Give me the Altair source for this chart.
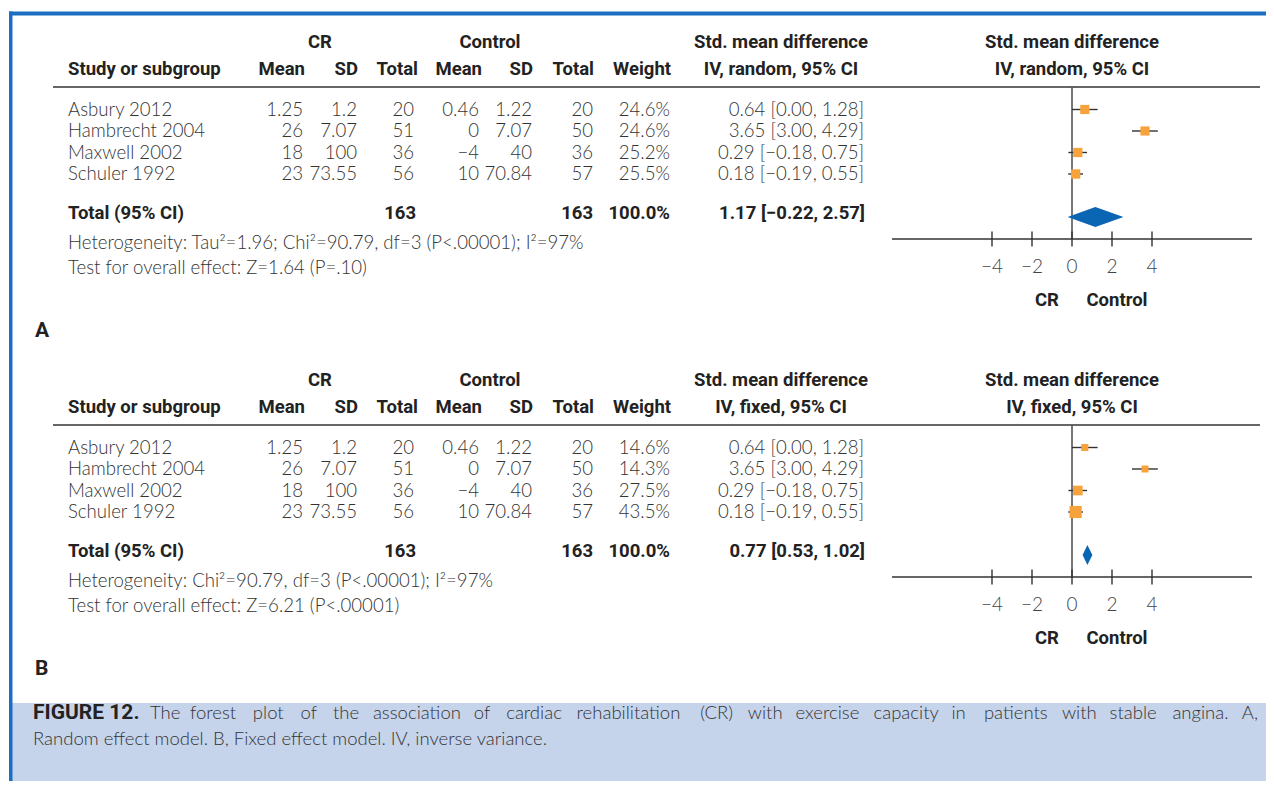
import altair as alt
import pandas as pd

# ---------------- data ----------------
studies = ["Asbury 2012", "Hambrecht 2004", "Maxwell 2002", "Schuler 1992"]
cr_mean = ["1.25", "26", "18", "23"]
cr_sd = ["1.2", "7.07", "100", "73.55"]
cr_total = ["20", "51", "36", "56"]
ct_mean = ["0.46", "0", "\u22124", "10"]
ct_sd = ["1.22", "7.07", "40", "70.84"]
ct_total = ["20", "50", "36", "57"]
smd = [0.64, 3.65, 0.29, 0.18]
ci_lo = [0.00, 3.00, -0.18, -0.19]
ci_hi = [1.28, 4.29, 0.75, 0.55]
ci_text = ["0.64 [0.00, 1.28]", "3.65 [3.00, 4.29]",
           "0.29 [\u22120.18, 0.75]", "0.18 [\u22120.19, 0.55]"]
weights = {"random": [24.6, 24.6, 25.2, 25.5], "fixed": [14.6, 14.3, 27.5, 43.5]}
weight_text = {"random": ["24.6%", "24.6%", "25.2%", "25.5%"],
               "fixed": ["14.6%", "14.3%", "27.5%", "43.5%"]}
total_cr = "163"
total_ct = "163"
total_weight = "100.0%"
pooled = {"random": (1.17, -0.22, 2.57), "fixed": (0.77, 0.53, 1.02)}
pooled_text = {"random": "1.17 [\u22120.22, 2.57]", "fixed": "0.77 [0.53, 1.02]"}
het_text = {"random": "Heterogeneity: Tau\u00b2=1.96; Chi\u00b2=90.79, df=3 (P<.00001); I\u00b2=97%",
            "fixed": "Heterogeneity: Chi\u00b2=90.79, df=3 (P<.00001); I\u00b2=97%"}
test_text = {"random": "Test for overall effect: Z=1.64 (P=.10)",
             "fixed": "Test for overall effect: Z=6.21 (P<.00001)"}
method_text = {"random": "IV, random, 95% CI", "fixed": "IV, fixed, 95% CI"}
panel_letters = {"random": "A", "fixed": "B"}
ticks = [-4, -2, 0, 2, 4]
tick_labels = ["\u22124", "\u22122", "0", "2", "4"]
axis_domain = [-9, 9]
caption_bold = "FIGURE 12."
caption_line1 = ("The forest plot of the association of cardiac rehabilitation (CR) with "
                 "exercise capacity in patients with stable angina. A,")
caption_line2 = "Random effect model. B, Fixed effect model. IV, inverse variance."

# ---------------- layout (image pixels) ----------------
OX, OY = 8, 8
W, H = 1258, 773
COL = {"study": 68, "cr_mean": 303, "cr_sd": 357, "cr_total": 414, "ct_mean": 479,
       "ct_sd": 532, "ct_total": 593, "weight": 670, "ci": 864}
HDR2 = {"Mean": 305, "SD": 358, "Total": 418, "Mean2": 482, "SD2": 533, "Total2": 594,
        "Weight": 671}
CR_X, CTRL_X, SMD_X, PLOT_X = 320, 490, 781, 1072
H1_Y, H2_Y, RULE_Y = 42, 69, 87
ROW_Y0, ROW_STEP = 109.5, 21.5
TOTAL_Y, HET_Y, TEST_Y = 213, 243, 268
AXIS_Y, TICK_HALF, TICKLAB_Y, SIDE_Y = 239, 7.5, 267, 300
DIAMOND_Y, DIAMOND_H = 217, 10
LETTER_Y = 331
PANEL_DY = 338
PLOT_RANGE = [892, 1252]
CAP1_Y, CAP2_Y = 713, 739
CAP_BOLD_X, CAP_TEXT_X, CAP_RIGHT = 33, 150, 1258
CAP_CHAR_W = 7.6  # approximate advance per character of the caption font

BLUE = "#1b6ec2"
DIAMOND = "#0a65b3"
ORANGE = "#f8a23c"
CAPBG = "#c6d4eb"
DARK = "#222222"
BODY = "#333333"
HFONT = "Roboto"
BFONT = "Lato"


def px(x):
    return x - OX


def py(y, p=0):
    return y + p * PANEL_DY - OY


xs = alt.Scale(domain=axis_domain, range=[px(PLOT_RANGE[0]), px(PLOT_RANGE[1])])

# ---------------- build text tables ----------------
texts = []


def add(x, y, text, align, style):
    texts.append({"x": px(x), "y": y, "text": text, "align": align, "style": style})


for p, model in enumerate(["random", "fixed"]):
    add(CR_X, py(H1_Y, p), "CR", "center", "head")
    add(CTRL_X, py(H1_Y, p), "Control", "center", "head")
    add(SMD_X, py(H1_Y, p), "Std. mean difference", "center", "head")
    add(PLOT_X, py(H1_Y, p), "Std. mean difference", "center", "head")
    add(COL["study"], py(H2_Y, p), "Study or subgroup", "left", "head")
    add(HDR2["Mean"], py(H2_Y, p), "Mean", "right", "head")
    add(HDR2["SD"], py(H2_Y, p), "SD", "right", "head")
    add(HDR2["Total"], py(H2_Y, p), "Total", "right", "head")
    add(HDR2["Mean2"], py(H2_Y, p), "Mean", "right", "head")
    add(HDR2["SD2"], py(H2_Y, p), "SD", "right", "head")
    add(HDR2["Total2"], py(H2_Y, p), "Total", "right", "head")
    add(HDR2["Weight"], py(H2_Y, p), "Weight", "right", "head")
    add(SMD_X, py(H2_Y, p), method_text[model], "center", "head")
    add(PLOT_X, py(H2_Y, p), method_text[model], "center", "head")
    for i, s in enumerate(studies):
        y = py(ROW_Y0 + i * ROW_STEP, p)
        add(COL["study"], y, s, "left", "body")
        add(COL["cr_mean"], y, cr_mean[i], "right", "body")
        add(COL["cr_sd"], y, cr_sd[i], "right", "body")
        add(COL["cr_total"], y, cr_total[i], "right", "body")
        add(COL["ct_mean"], y, ct_mean[i], "right", "body")
        add(COL["ct_sd"], y, ct_sd[i], "right", "body")
        add(COL["ct_total"], y, ct_total[i], "right", "body")
        add(COL["weight"], y, weight_text[model][i], "right", "body")
        add(COL["ci"], y, ci_text[i], "right", "body")
    y = py(TOTAL_Y, p)
    add(COL["study"], y, "Total (95% CI)", "left", "head")
    add(COL["cr_total"] + 2, y, total_cr, "right", "head")
    add(COL["ct_total"], y, total_ct, "right", "head")
    add(COL["weight"], y, total_weight, "right", "head")
    add(COL["ci"] + 1, y, pooled_text[model], "right", "head")
    add(COL["study"], py(HET_Y, p), het_text[model], "left", "body")
    add(COL["study"], py(TEST_Y, p), test_text[model], "left", "body")
    add(1047, py(SIDE_Y, p), "CR", "center", "head")
    add(1117, py(SIDE_Y, p), "Control", "center", "head")
    add(35, py(LETTER_Y, p), panel_letters[model], "left", "letter")

# caption: bold lead, then a justified first line (word by word), then line 2
add(CAP_BOLD_X, py(CAP1_Y), caption_bold, "left", "capbold")
words = caption_line1.split(" ")
offsets, off = [], 0
for w_ in words:
    offsets.append(off)
    off += len(w_) + 1
natural_end = CAP_TEXT_X + CAP_CHAR_W * (offsets[-1] + len(words[-1]))
extra = (CAP_RIGHT - natural_end) / (len(words) - 1)
for k, w_ in enumerate(words):
    if k == len(words) - 1:
        add(CAP_RIGHT, py(CAP1_Y), w_, "right", "cap")
    else:
        add(CAP_TEXT_X + CAP_CHAR_W * offsets[k] + extra * k, py(CAP1_Y), w_, "left", "cap")
add(CAP_BOLD_X, py(CAP2_Y), caption_line2, "left", "cap")

tdf = pd.DataFrame(texts)

STYLES = {
    "head": dict(font=HFONT, fontWeight="bold", fontSize=18.5, color=DARK),
    "body": dict(font=BFONT, fontWeight=300, fontSize=18.6, color=BODY),
    "letter": dict(font=HFONT, fontWeight="bold", fontSize=21, color=DARK),
    "capbold": dict(font=HFONT, fontWeight="bold", fontSize=21, color=DARK),
    "cap": dict(font=BFONT, fontWeight=300, fontSize=18.5, color=BODY),
}

layers = []

one = alt.Data(values=[{"k": 1}])
layers.append(alt.Chart(one).mark_rect(color=CAPBG).encode(
    x=alt.value(px(12)), x2=alt.value(W), y=alt.value(py(703)), y2=alt.value(H)))
layers.append(alt.Chart(one).mark_rect(color=BLUE).encode(
    x=alt.value(px(9)), x2=alt.value(W), y=alt.value(py(11.5)), y2=alt.value(py(15.5))))
layers.append(alt.Chart(one).mark_rect(color=BLUE).encode(
    x=alt.value(px(9)), x2=alt.value(px(12.5)), y=alt.value(py(11.5)), y2=alt.value(H)))

rules_df = pd.DataFrame([{"x1": px(53), "x2": px(1260), "y": py(RULE_Y, p)} for p in range(2)])
layers.append(alt.Chart(rules_df).mark_rule(color="#333333", strokeWidth=1.6).encode(
    x=alt.X("x1:Q", scale=None, axis=None), x2="x2:Q",
    y=alt.Y("y:Q", scale=None, axis=None)))

zero_df = pd.DataFrame([{"z": 0, "y1": py(RULE_Y, p), "y2": py(AXIS_Y, p)} for p in range(2)])
layers.append(alt.Chart(zero_df).mark_rule(color="#555555", strokeWidth=1.6).encode(
    x=alt.X("z:Q", scale=xs, axis=None),
    y=alt.Y("y1:Q", scale=None, axis=None), y2="y2:Q"))

axis_df = pd.DataFrame([{"a": axis_domain[0], "b": axis_domain[1], "y": py(AXIS_Y, p)}
                        for p in range(2)])
layers.append(alt.Chart(axis_df).mark_rule(color="#333333", strokeWidth=1.4).encode(
    x=alt.X("a:Q", scale=xs, axis=None), x2="b:Q",
    y=alt.Y("y:Q", scale=None, axis=None)))

tick_df = pd.DataFrame([{"t": t, "lab": tick_labels[j],
                         "y1": py(AXIS_Y - TICK_HALF, p), "y2": py(AXIS_Y + TICK_HALF, p),
                         "ly": py(TICKLAB_Y, p)}
                        for p in range(2) for j, t in enumerate(ticks)])
layers.append(alt.Chart(tick_df).mark_rule(color="#333333", strokeWidth=1.4).encode(
    x=alt.X("t:Q", scale=xs, axis=None),
    y=alt.Y("y1:Q", scale=None, axis=None), y2="y2:Q"))
layers.append(alt.Chart(tick_df).mark_text(font=BFONT, fontWeight=300, fontSize=19,
                                           color="#444444", baseline="middle").encode(
    x=alt.X("t:Q", scale=xs, axis=None),
    y=alt.Y("ly:Q", scale=None, axis=None), text="lab:N"))

study_df = pd.DataFrame([{"smd": smd[i], "lo": ci_lo[i], "hi": ci_hi[i],
                          "w": weights[m][i], "y": py(ROW_Y0 + i * ROW_STEP, p)}
                         for p, m in enumerate(["random", "fixed"]) for i in range(4)])
layers.append(alt.Chart(study_df).mark_rule(color="#333333", strokeWidth=1.4).encode(
    x=alt.X("lo:Q", scale=xs, axis=None), x2="hi:Q",
    y=alt.Y("y:Q", scale=None, axis=None)))
layers.append(alt.Chart(study_df).mark_square(color=ORANGE, opacity=1).encode(
    x=alt.X("smd:Q", scale=xs, axis=None),
    y=alt.Y("y:Q", scale=None, axis=None),
    size=alt.Size("w:Q", scale=alt.Scale(domain=[0, 100], range=[0, 340]), legend=None)))

dia_rows = []
for p, m in enumerate(["random", "fixed"]):
    est, lo, hi = pooled[m]
    c = py(DIAMOND_Y, p)
    dia_rows += [{"panel": m, "x": lo, "yt": c, "yb": c},
                 {"panel": m, "x": est, "yt": c - DIAMOND_H, "yb": c + DIAMOND_H},
                 {"panel": m, "x": hi, "yt": c, "yb": c}]
dia_df = pd.DataFrame(dia_rows)
layers.append(alt.Chart(dia_df).mark_area(color=DIAMOND, opacity=1, orient="vertical").encode(
    x=alt.X("x:Q", scale=xs, axis=None),
    y=alt.Y("yt:Q", scale=None, axis=None, stack=None), y2="yb:Q",
    detail="panel:N"))

for style, props in STYLES.items():
    for align in ["left", "right", "center"]:
        sub = tdf[(tdf["style"] == style) & (tdf["align"] == align)]
        if len(sub) == 0:
            continue
        layers.append(alt.Chart(sub).mark_text(align=align, baseline="middle", **props).encode(
            x=alt.X("x:Q", scale=None, axis=None),
            y=alt.Y("y:Q", scale=None, axis=None),
            text="text:N"))

chart = alt.layer(*layers).resolve_scale(
    x="independent", y="independent", size="independent"
).properties(
    width=W, height=H, padding=0, autosize=alt.AutoSizeParams(type="none"),
    background="white"
).configure_view(stroke=None)

chart.save("out.html", embed_options={"renderer": "svg", "actions": False})
